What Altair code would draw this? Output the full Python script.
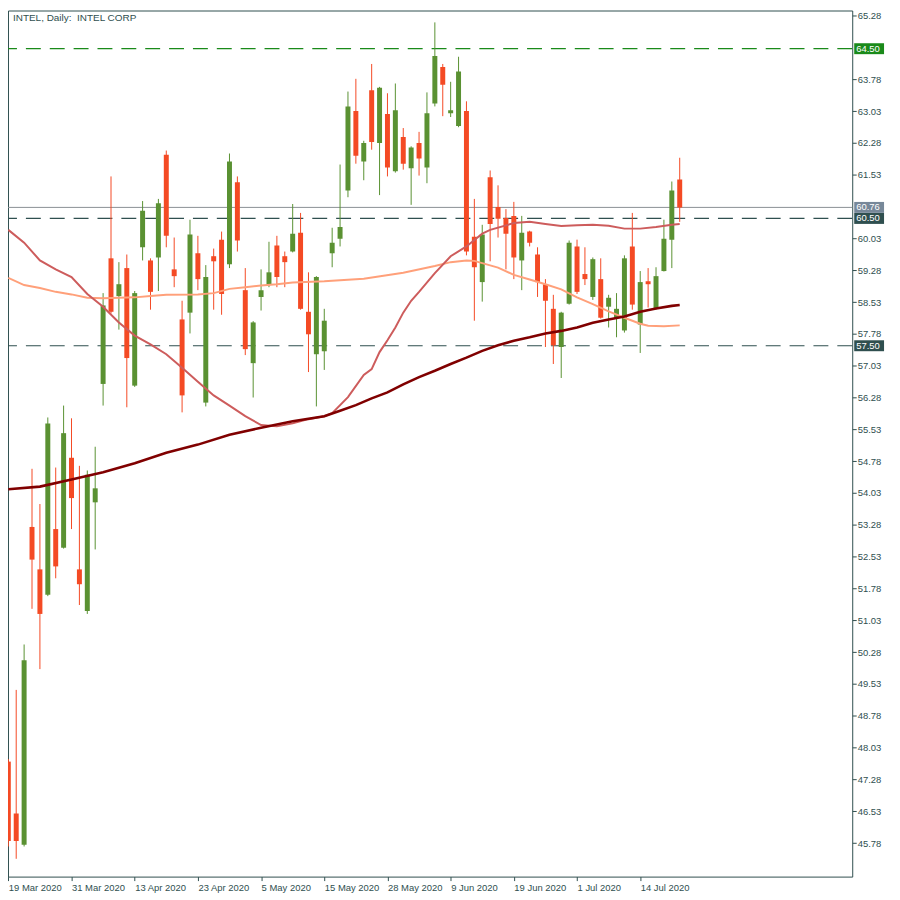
import altair as alt
import pandas as pd

# ---------------- data ----------------
opens = [47.70, 46.48, 45.74, 53.23, 52.23, 51.63, 53.18, 52.74, 54.86, 52.23,
         51.25, 53.81, 56.60, 59.56, 58.67, 59.33, 56.56, 59.82, 59.51, 59.58,
         62.00, 59.30, 58.12, 58.28, 59.68, 56.16, 59.61, 60.00, 59.42, 61.35,
         58.81, 57.09, 58.65, 58.93, 59.86, 59.61, 59.72, 60.16, 58.30, 57.30,
         57.37, 59.68, 60.02, 61.16, 63.03, 61.84, 63.52, 62.28, 62.96, 61.61,
         62.42, 61.68, 62.28, 61.70, 63.21, 64.07, 62.98, 62.68, 63.03, 60.07,
         59.00, 61.47, 60.77, 60.51, 60.56, 59.51, 60.19, 59.65, 58.95, 58.37,
         57.47, 58.49, 59.84, 59.19, 58.65, 59.07, 58.42, 58.16, 57.86, 59.84,
         58.00, 59.02, 58.37, 59.26, 60.00, 61.42]
highs = [47.76, 49.39, 50.46, 54.60, 53.77, 55.81, 54.63, 56.09, 55.79, 54.67,
         54.56, 55.12, 58.74, 61.49, 59.47, 59.65, 58.79, 60.91, 59.56, 60.96,
         62.10, 60.05, 58.56, 60.47, 60.09, 59.40, 59.79, 60.19, 62.03, 61.49,
         59.33, 58.08, 59.30, 59.95, 60.09, 59.72, 60.84, 60.63, 59.23, 59.14,
         58.37, 60.28, 61.77, 63.49, 63.79, 62.33, 64.14, 63.60, 63.45, 63.68,
         62.63, 62.20, 62.54, 63.47, 65.12, 64.14, 63.72, 64.31, 63.26, 60.96,
         60.35, 61.63, 61.28, 60.72, 60.89, 60.56, 60.21, 59.82, 59.07, 58.70,
         58.30, 59.98, 60.00, 59.82, 59.58, 59.56, 58.70, 58.74, 59.63, 60.63,
         59.26, 59.33, 59.35, 60.47, 61.37, 61.93]
lows = [45.70, 45.41, 45.70, 51.30, 49.88, 51.60, 52.02, 52.72, 53.18, 51.39,
        51.18, 52.70, 56.09, 58.26, 57.88, 56.05, 56.53, 59.51, 58.35, 58.79,
        59.82, 58.88, 55.93, 57.79, 58.81, 56.07, 58.35, 58.23, 59.33, 59.72,
        57.28, 56.28, 58.33, 58.88, 58.88, 58.88, 59.70, 58.35, 56.88, 56.07,
        56.93, 59.35, 59.84, 61.00, 61.79, 61.40, 62.12, 61.05, 61.49, 61.58,
        61.65, 60.82, 61.51, 61.33, 63.14, 62.91, 62.89, 62.65, 59.63, 58.09,
        58.54, 59.49, 60.05, 59.30, 59.07, 58.81, 59.84, 58.65, 57.47, 57.07,
        56.74, 58.47, 58.72, 58.93, 58.58, 58.14, 57.93, 57.70, 57.81, 58.35,
        57.33, 58.40, 58.35, 59.25, 59.33, 60.42]
closes = [45.83, 45.83, 50.09, 52.46, 51.18, 55.67, 52.30, 55.44, 53.91, 51.88,
          54.46, 54.14, 58.45, 58.30, 58.95, 57.21, 58.74, 60.68, 58.77, 60.86,
          60.09, 59.14, 56.33, 60.12, 59.07, 59.12, 59.49, 58.72, 61.84, 59.98,
          57.42, 58.05, 58.81, 59.23, 59.12, 59.47, 60.14, 58.37, 57.77, 59.12,
          58.09, 59.93, 60.30, 63.14, 61.98, 62.28, 62.30, 63.58, 61.70, 63.05,
          61.79, 62.17, 61.91, 62.98, 64.33, 63.65, 63.05, 63.96, 59.72, 59.35,
          60.12, 60.37, 60.49, 60.14, 59.58, 60.16, 59.93, 59.00, 58.56, 57.51,
          58.28, 59.93, 58.77, 59.07, 59.54, 58.16, 58.63, 58.37, 59.56, 58.47,
          59.00, 58.95, 59.14, 60.02, 61.16, 60.76]

# moving averages (candle index, value)
ma_slow_idx = [0, 4, 8, 12, 16, 20, 24, 28, 32, 36, 40, 42, 44, 46, 48, 50, 52,
               54, 56, 58, 60, 62, 64, 66, 68, 70, 72, 74, 76, 78, 80, 82, 84, 85]
ma_slow_val = [54.12, 54.18, 54.35, 54.52, 54.73, 54.98, 55.17, 55.40, 55.57,
               55.72, 55.84, 55.97, 56.10, 56.26, 56.40, 56.59, 56.76, 56.91,
               57.07, 57.22, 57.38, 57.51, 57.62, 57.70, 57.79, 57.85, 57.93,
               58.04, 58.12, 58.19, 58.30, 58.38, 58.44, 58.46]

ma_fast_idx = [0, 2, 4, 6, 8, 10, 12, 14, 16, 18, 20, 22, 24, 26, 28, 30, 32, 34,
               36, 38, 40, 41, 43, 45, 46, 47, 48, 49, 50, 51, 52, 54, 56, 58, 60,
               61, 64, 66, 68, 70, 72, 74, 76, 78, 80, 82, 84, 85]
ma_fast_val = [60.23, 59.93, 59.51, 59.30, 59.12, 58.72, 58.42, 58.05, 57.74,
               57.53, 57.30, 56.98, 56.65, 56.33, 56.09, 55.84, 55.63, 55.60,
               55.67, 55.77, 55.84, 55.91, 56.29, 56.81, 56.95, 57.35, 57.63,
               57.93, 58.28, 58.56, 58.77, 59.21, 59.61, 59.84, 60.14, 60.23,
               60.39, 60.42, 60.37, 60.32, 60.34, 60.35, 60.33, 60.26, 60.26,
               60.30, 60.35, 60.37]

ma_mid_idx = [0, 2, 4, 6, 8, 10, 12, 16, 18, 20, 24, 26, 28, 30, 32, 34, 36, 40,
              45, 50, 54, 56, 58, 59, 62, 64, 66, 68, 70, 72, 74, 76, 78, 80, 81,
              83, 85]
ma_mid_val = [59.10, 58.93, 58.86, 58.77, 58.71, 58.63, 58.62, 58.64, 58.67,
              58.70, 58.71, 58.74, 58.84, 58.88, 58.92, 58.95, 58.99, 59.02,
              59.08, 59.22, 59.38, 59.47, 59.51, 59.50, 59.34, 59.17, 59.06,
              58.95, 58.83, 58.64, 58.48, 58.31, 58.16, 58.02, 57.97, 57.96,
              57.98]

date_ticks = [0, 8, 16, 24, 32, 40, 48, 56, 64, 72, 80]
date_labels = ["19 Mar 2020", "31 Mar 2020", "13 Apr 2020", "23 Apr 2020",
               "5 May 2020", "15 May 2020", "28 May 2020", "9 Jun 2020",
               "19 Jun 2020", "1 Jul 2020", "14 Jul 2020"]

price_ticks = [45.78, 46.53, 47.28, 48.03, 48.78, 49.53, 50.28, 51.03, 51.78,
               52.53, 53.28, 54.03, 54.78, 55.53, 56.28, 57.03, 57.78, 58.53,
               59.28, 60.03, 61.53, 62.28, 63.03, 63.78, 65.28]

level_prices = [64.50, 60.50, 57.50]
level_labels = ["64.50", "60.50", "57.50"]
level_colors = ["#1a8a1a", "#2f4f4f", "#2f4f4f"]
last_price = [60.76]
last_label = ["60.76"]

title_text = ["INTEL, Daily:\u00a0 INTEL CORP"]

# ---------------- styling ----------------
FONT = "Liberation Sans"
DARK = "#2f4f4f"
UP = "#5a9132"
DOWN = "#f44a24"
W, H = 849, 871

candles = pd.DataFrame({"i": list(range(len(opens))), "open": opens,
                        "high": highs, "low": lows, "close": closes})
candles["dir"] = ["up" if c >= o else "down" for o, c in zip(opens, closes)]

xscale = alt.Scale(domain=[-0.04, 106.84], nice=False, zero=False, padding=0)
yscale = alt.Scale(domain=[44.99, 65.40], nice=False, zero=False, padding=0)

labels_js = "[" + ",".join("'" + s + "'" for s in date_labels) + "]"
ticks_js = "[" + ",".join(str(t) for t in date_ticks) + "]"
x_axis = alt.Axis(values=date_ticks, labelExpr=f"{labels_js}[indexof({ticks_js}, datum.value)]",
                  title=None, grid=False, domain=False, tickSize=4, tickColor=DARK,
                  labelColor=DARK, labelAlign="left", labelFlush=False, labelPadding=2,
                  labelFont=FONT, labelFontSize=9.5, labelOverlap=False)
y_axis = alt.Axis(values=price_ticks, format=".2f", orient="right", title=None,
                  grid=False, domain=False, tickSize=4, tickColor=DARK,
                  labelColor=DARK, labelPadding=1, labelFont=FONT,
                  labelFontSize=9.5, labelFlush=False, labelOverlap=False)

color_scale = alt.Scale(domain=["up", "down"], range=[UP, DOWN])

base = alt.Chart(candles)

wicks = base.mark_rule(strokeWidth=1, clip=True).encode(
    x=alt.X("i:Q", scale=xscale, axis=x_axis),
    y=alt.Y("low:Q", scale=yscale, axis=y_axis),
    y2="high:Q",
    color=alt.Color("dir:N", scale=color_scale, legend=None),
)
bodies = base.mark_bar(size=5, clip=True).encode(
    x=alt.X("i:Q", scale=xscale, axis=x_axis),
    y=alt.Y("open:Q", scale=yscale, axis=y_axis),
    y2="close:Q",
    color=alt.Color("dir:N", scale=color_scale, legend=None),
)

levels_df = pd.DataFrame({"price": level_prices, "label": level_labels, "col": level_colors})
levels = alt.Chart(levels_df).mark_rule(strokeWidth=1.2, strokeDash=[15, 9]).encode(
    y=alt.Y("price:Q", scale=yscale, axis=y_axis),
    color=alt.Color("col:N", scale=None),
)

last_df = pd.DataFrame({"price": last_price, "label": last_label})
last_line = alt.Chart(last_df).mark_rule(strokeWidth=1, color="#8a8f94").encode(
    y=alt.Y("price:Q", scale=yscale, axis=y_axis),
)


def ma_layer(idx, val, color, width):
    df = pd.DataFrame({"i": idx, "v": val})
    return alt.Chart(df).mark_line(color=color, strokeWidth=width, clip=True).encode(
        x=alt.X("i:Q", scale=xscale, axis=x_axis),
        y=alt.Y("v:Q", scale=yscale, axis=y_axis),
    )


ma_slow = ma_layer(ma_slow_idx, ma_slow_val, "#800000", 2.6)
ma_fast = ma_layer(ma_fast_idx, ma_fast_val, "#cd5c5c", 2)
ma_mid = ma_layer(ma_mid_idx, ma_mid_val, "#ffa07a", 2)

# price boxes on the right axis
boxes_df = pd.concat([
    levels_df,
    pd.DataFrame({"price": last_price, "label": last_label, "col": ["#778899"]}),
], ignore_index=True)
box_rects = alt.Chart(boxes_df).mark_rule(strokeWidth=11, strokeCap="butt", clip=False).encode(
    x=alt.value(W + 2), x2=alt.value(W + 32),
    y=alt.Y("price:Q", scale=yscale, axis=y_axis),
    color=alt.Color("col:N", scale=None),
)
box_text = alt.Chart(boxes_df).mark_text(align="left", baseline="middle", color="white",
                                          font=FONT, fontSize=9.5, clip=False).encode(
    x=alt.value(W + 4),
    y=alt.Y("price:Q", scale=yscale, axis=y_axis),
    text="label:N",
)

title = alt.Chart(pd.DataFrame({"t": title_text})).mark_text(
    align="left", baseline="top", color=DARK, font=FONT, fontSize=10
).encode(x=alt.value(5), y=alt.value(3), text="t:N")

chart = alt.layer(
    levels, last_line, wicks, bodies, ma_mid, ma_fast, ma_slow, box_rects, box_text, title
).properties(
    width=W, height=H, background="white",
    autosize=alt.AutoSizeParams(type="none"),
    padding={"left": 0, "top": 0, "right": 40, "bottom": 20},
).configure_view(
    stroke=DARK, strokeWidth=1
)

chart.save("out.html", embed_options={"renderer": "svg", "actions": False})
